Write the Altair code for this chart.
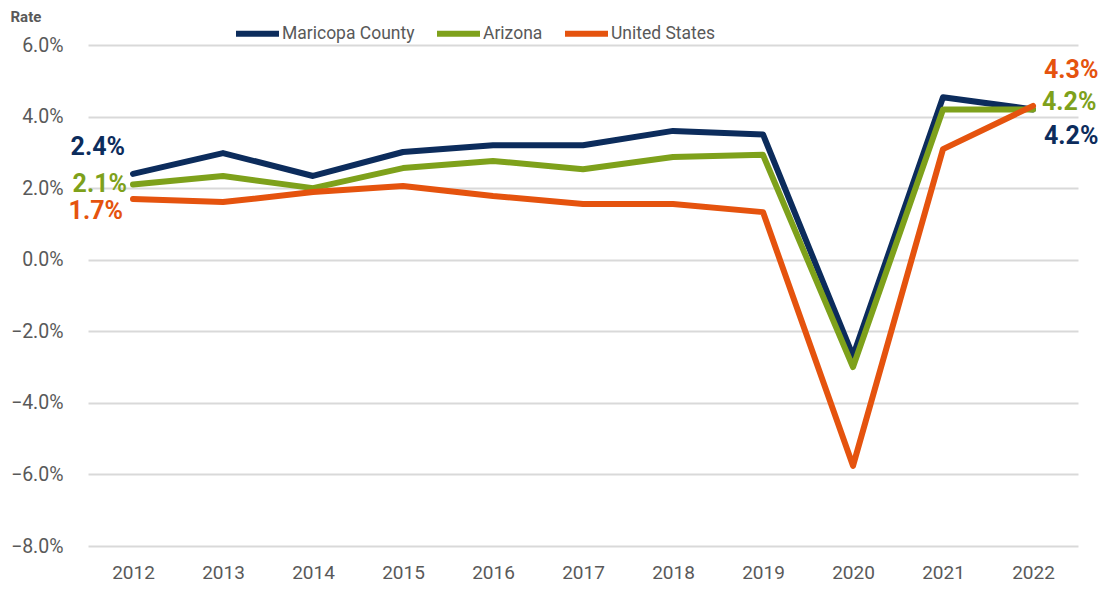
import altair as alt
import pandas as pd

years = ["2012", "2013", "2014", "2015", "2016", "2017", "2018", "2019", "2020", "2021", "2022"]
maricopa = [2.4, 2.98, 2.34, 3.01, 3.2, 3.2, 3.6, 3.5, -2.69, 4.54, 4.2]
arizona = [2.1, 2.34, 2.0, 2.56, 2.76, 2.53, 2.87, 2.93, -3.0, 4.2, 4.2]
united_states = [1.7, 1.61, 1.89, 2.06, 1.78, 1.56, 1.56, 1.33, -5.76, 3.09, 4.3]

series_names = ["Maricopa County", "Arizona", "United States"]
series_colors = ["#0C2C5C", "#7EA11B", "#E5530E"]
y_ticks = [-8, -6, -4, -2, 0, 2, 4, 6]

rows = []
for name, vals in zip(series_names, [maricopa, arizona, united_states]):
    for yr, v in zip(years, vals):
        rows.append({"series": name, "year": yr, "value": v})
df = pd.DataFrame(rows)

FONT = "Roboto"
GRAY = "#595959"

x_enc = alt.X("year:N", sort=years,
              scale=alt.Scale(type="point", padding=0.5),
              axis=alt.Axis(title=None, labelAngle=0, labelFontSize=19, labelColor=GRAY,
                            labelFont=FONT, labelPadding=17, ticks=False, domain=False, grid=False))
y_enc = alt.Y("value:Q",
              scale=alt.Scale(domain=[-8, 6], nice=False, zero=False),
              axis=alt.Axis(values=y_ticks, labelExpr="format(datum.value, '.1f') + '%'",
                            labelFontSize=19.5, labelColor=GRAY, labelFont=FONT, labelPadding=25,
                            ticks=False, domain=False, grid=True, gridColor="#D9D9D9", gridWidth=2,
                            title="Rate", titleAngle=0, titleAlign="left", titleBaseline="top",
                            titleX=-78, titleY=-36, titleFontSize=15, titleFontWeight="bold",
                            titleColor=GRAY, titleFont=FONT))
color_enc = alt.Color("series:N",
                      scale=alt.Scale(domain=series_names, range=series_colors),
                      legend=alt.Legend(title=None, orient="none", direction="horizontal",
                                        legendX=145, legendY=-36, symbolType="stroke",
                                        symbolSize=1849, symbolStrokeWidth=6, labelFontSize=17.5,
                                        labelColor=GRAY, labelFont=FONT, labelOffset=0,
                                        columnPadding=10, symbolOffset=0))

layers = []
for name in series_names:
    layers.append(
        alt.Chart(df).transform_filter(alt.datum.series == name)
        .mark_line(strokeWidth=6, strokeJoin="round", strokeCap="round")
        .encode(x=x_enc, y=y_enc, color=color_enc)
    )

# data labels: (series, year, dx, dy, align)
label_specs = [
    ("Maricopa County", "2012", -8, -27, "right"),
    ("Arizona", "2012", -6, -1, "right"),
    ("United States", "2012", -10, 12, "right"),
    ("United States", "2022", 11, -36, "left"),
    ("Arizona", "2022", 9, -7, "left"),
    ("Maricopa County", "2022", 11, 27, "left"),
]
series_vals = {"Maricopa County": maricopa, "Arizona": arizona, "United States": united_states}
label_rows = []
for s, yr, dx, dy, al in label_specs:
    v = dict(zip(years, series_vals[s]))[yr]
    label_rows.append({"series": s, "year": yr, "value": v, "text": f"{v:.1f}%"})
label_df = pd.DataFrame(label_rows)

for (s, yr, dx, dy, al) in label_specs:
    layers.append(
        alt.Chart(label_df)
        .transform_filter((alt.datum.series == s) & (alt.datum.year == yr))
        .mark_text(fontSize=25, fontWeight="bold", font=FONT, align=al, baseline="middle",
                   dx=dx, dy=dy)
        .encode(x=x_enc, y=y_enc, text="text:N",
                color=alt.Color("series:N", scale=alt.Scale(domain=series_names, range=series_colors),
                                legend=None))
    )

chart = alt.layer(*layers).properties(
    width=990, height=501,
    autosize=alt.AutoSizeParams(type="none"),
    padding={"left": 80, "top": 37, "right": 22, "bottom": 38},
).configure(background="white").configure_view(strokeWidth=0)

chart.save("out.html", embed_options={"renderer": "svg", "actions": False})
